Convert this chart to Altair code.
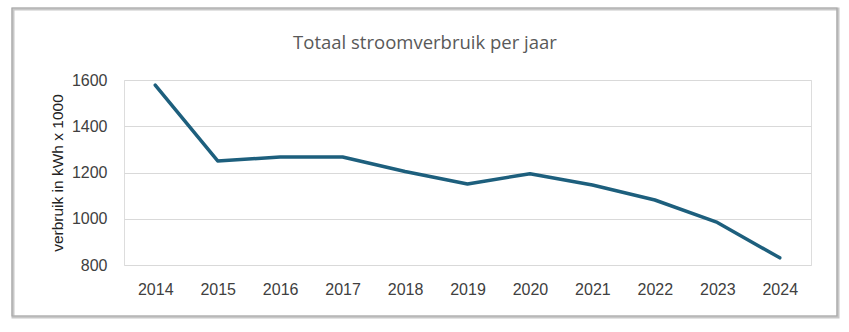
import altair as alt
import pandas as pd

years = ["2014", "2015", "2016", "2017", "2018", "2019", "2020", "2021", "2022", "2023", "2024"]
usage = [1578, 1250, 1267, 1267, 1204, 1150, 1195, 1146, 1081, 984, 831]

df = pd.DataFrame({"jaar": years, "verbruik": usage})

shadow = alt.Chart(pd.DataFrame({"a": [0]})).mark_rect(
    fill="transparent", stroke="#c8c8c8", strokeWidth=3
).encode(x=alt.value(-111), x2=alt.value(714), y=alt.value(-71), y2=alt.value(237))

frame = alt.Chart(pd.DataFrame({"a": [0]})).mark_rect(
    fill="transparent", stroke="#a8a8a8", strokeWidth=1.2
).encode(x=alt.value(-112), x2=alt.value(713), y=alt.value(-72), y2=alt.value(236))

title_txt = alt.Chart(pd.DataFrame({"t": ["Totaal stroomverbruik per jaar"]})).mark_text(
    font="Open Sans", fontSize=18.5, color="#595959", align="center", baseline="middle"
).encode(text="t:N", x=alt.value(301), y=alt.value(-37))

line = alt.Chart(df).mark_line(color="#1D5F7D", strokeWidth=3.5, strokeJoin="round", strokeCap="round").encode(
    x=alt.X("jaar:O", sort=years, scale=alt.Scale(type="point", padding=0.5),
            axis=alt.Axis(title=None, labelAngle=0, ticks=False, domain=False, labelPadding=16,
                          labelFontSize=16, labelColor="#404040", labelFont="Liberation Sans")),
    y=alt.Y("verbruik:Q", scale=alt.Scale(domain=[800, 1600], nice=False, zero=False),
            axis=alt.Axis(title="verbruik in kWh x 1000", values=[800, 1000, 1200, 1400, 1600],
                          format="d",
                          ticks=False, domain=False, labelPadding=17, labelFontSize=16,
                          labelColor="#404040", labelFont="Liberation Sans",
                          gridColor="#d9d9d9", gridWidth=1.2,
                          titleFontSize=15.5, titleFontWeight="normal", titleColor="#222222",
                          titleFont="Liberation Sans", titlePadding=6)),
)

chart = alt.layer(shadow, frame, title_txt, line).properties(
    width=687, height=185,
    autosize=alt.AutoSizeParams(type="none"),
    padding={"left": 124, "top": 80, "right": 38, "bottom": 67},
).configure_view(stroke=None).configure(background="white")

chart.save("out.html", embed_options={"renderer": "svg", "actions": False})
